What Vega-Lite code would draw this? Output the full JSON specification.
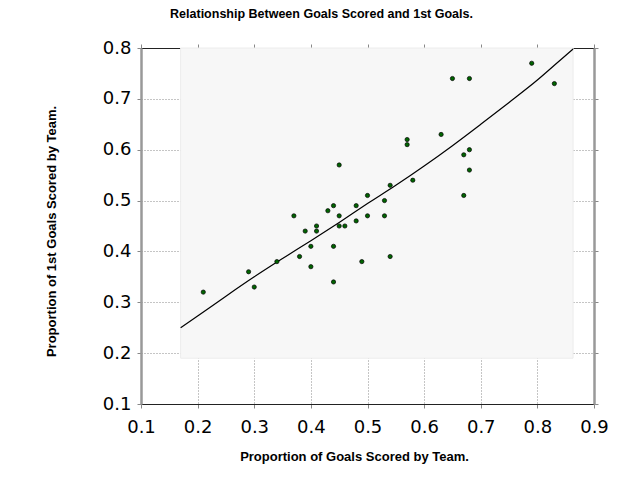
{
  "$schema": "https://vega.github.io/schema/vega-lite/v6.json",
  "width": 453,
  "height": 356,
  "autosize": {"type": "none"},
  "padding": {"left": 141, "top": 48, "right": 46, "bottom": 76},
  "background": "white",
  "title": {
    "text": "Relationship Between Goals Scored and 1st Goals.",
    "font": "Liberation Sans",
    "fontSize": 12.5,
    "fontWeight": "bold",
    "color": "black",
    "anchor": "middle",
    "dx": -46,
    "baseline": "alphabetic",
    "offset": 9
  },
  "config": {
    "view": {"stroke": null},
    "axis": {
      "labelFont": "DejaVu Sans",
      "labelFontSize": 18,
      "labelColor": "black",
      "titleFont": "Liberation Sans",
      "titleFontSize": 13,
      "titleFontWeight": "bold",
      "titleColor": "black",
      "tickColor": "#888",
      "tickSize": 4,
      "gridColor": "#8a8a8a",
      "gridDash": [1, 2],
      "gridWidth": 1,
      "zindex": 1
    }
  },
  "datasets": {
    "bg": [{"x0": 0.17, "x1": 0.863, "y0": 0.19, "y1": 0.8}],
    "fit": [
      {"x": 0.17, "y": 0.25},
      {"x": 0.2, "y": 0.273},
      {"x": 0.25, "y": 0.312},
      {"x": 0.3, "y": 0.35},
      {"x": 0.35, "y": 0.386},
      {"x": 0.4, "y": 0.421},
      {"x": 0.45, "y": 0.457},
      {"x": 0.5, "y": 0.494},
      {"x": 0.55, "y": 0.53},
      {"x": 0.6, "y": 0.568},
      {"x": 0.65, "y": 0.608},
      {"x": 0.7, "y": 0.65},
      {"x": 0.75, "y": 0.693},
      {"x": 0.8, "y": 0.737},
      {"x": 0.83, "y": 0.766},
      {"x": 0.863, "y": 0.798}
    ],
    "teams": [
      {"goals": 0.21, "first": 0.32},
      {"goals": 0.29, "first": 0.36},
      {"goals": 0.30, "first": 0.33},
      {"goals": 0.34, "first": 0.38},
      {"goals": 0.37, "first": 0.47},
      {"goals": 0.38, "first": 0.39},
      {"goals": 0.39, "first": 0.44},
      {"goals": 0.40, "first": 0.37},
      {"goals": 0.40, "first": 0.41},
      {"goals": 0.41, "first": 0.45},
      {"goals": 0.41, "first": 0.44},
      {"goals": 0.43, "first": 0.48},
      {"goals": 0.44, "first": 0.49},
      {"goals": 0.44, "first": 0.41},
      {"goals": 0.44, "first": 0.34},
      {"goals": 0.45, "first": 0.57},
      {"goals": 0.45, "first": 0.47},
      {"goals": 0.45, "first": 0.45},
      {"goals": 0.46, "first": 0.45},
      {"goals": 0.48, "first": 0.49},
      {"goals": 0.48, "first": 0.46},
      {"goals": 0.49, "first": 0.38},
      {"goals": 0.50, "first": 0.51},
      {"goals": 0.50, "first": 0.47},
      {"goals": 0.53, "first": 0.50},
      {"goals": 0.53, "first": 0.47},
      {"goals": 0.54, "first": 0.53},
      {"goals": 0.54, "first": 0.39},
      {"goals": 0.57, "first": 0.62},
      {"goals": 0.57, "first": 0.61},
      {"goals": 0.58, "first": 0.54},
      {"goals": 0.63, "first": 0.63},
      {"goals": 0.65, "first": 0.74},
      {"goals": 0.67, "first": 0.59},
      {"goals": 0.67, "first": 0.51},
      {"goals": 0.68, "first": 0.74},
      {"goals": 0.68, "first": 0.60},
      {"goals": 0.68, "first": 0.56},
      {"goals": 0.79, "first": 0.77},
      {"goals": 0.83, "first": 0.73}
    ]
  },
  "resolve": {"axis": {"x": "independent", "y": "independent"}},
  "layer": [
    {
      "data": {"name": "bg"},
      "mark": {"type": "rect", "color": "#f7f7f7", "stroke": "#ececec", "strokeWidth": 1},
      "encoding": {
        "x": {
          "field": "x0", "type": "quantitative",
          "scale": {"domain": [0.1, 0.9], "nice": false, "zero": false},
          "axis": {
            "orient": "bottom",
            "title": "Proportion of Goals Scored by Team.",
            "values": [0.1, 0.2, 0.3, 0.4, 0.5, 0.6, 0.7, 0.8, 0.9],
            "format": ".1f",
            "labelPadding": 10,
            "domainColor": "#222",
            "domainWidth": 1.2,
            "titleX": 213,
            "titleY": 56,
            "titleBaseline": "alphabetic",
            "titleAnchor": null,
            "labelFlush": false
          }
        },
        "x2": {"field": "x1"},
        "y": {
          "field": "y0", "type": "quantitative",
          "scale": {"domain": [0.1, 0.8], "nice": false, "zero": false},
          "axis": {
            "orient": "left",
            "title": "Proportion of 1st Goals Scored by Team.",
            "values": [0.1, 0.2, 0.3, 0.4, 0.5, 0.6, 0.7, 0.8],
            "format": ".1f",
            "labelPadding": 6,
            "domainColor": "#999",
            "domainWidth": 2.5,
            "titleX": -86,
            "titleY": 183,
            "titleAngle": -90,
            "titleBaseline": "alphabetic",
            "titleAnchor": null,
            "labelFlush": false
          }
        },
        "y2": {"field": "y1"}
      }
    },
    {
      "data": {"name": "fit"},
      "mark": {"type": "line", "color": "black", "strokeWidth": 1.2, "interpolate": "monotone"},
      "encoding": {
        "x": {"field": "x", "type": "quantitative", "axis": null},
        "y": {"field": "y", "type": "quantitative", "axis": null}
      }
    },
    {
      "data": {"name": "teams"},
      "mark": {"type": "point", "filled": true, "fill": "#006400", "stroke": "black", "strokeWidth": 0.7, "size": 18, "opacity": 1},
      "encoding": {
        "x": {
          "field": "goals", "type": "quantitative",
          "axis": {
            "orient": "top", "labels": false, "title": null, "grid": false,
            "values": [0.1, 0.2, 0.3, 0.4, 0.5, 0.6, 0.7, 0.8, 0.9],
            "domainColor": "#222", "domainWidth": 1.2
          }
        },
        "y": {
          "field": "first", "type": "quantitative",
          "axis": {
            "orient": "right", "labels": false, "title": null, "grid": false,
            "values": [0.1, 0.2, 0.3, 0.4, 0.5, 0.6, 0.7, 0.8],
            "domainColor": "#999", "domainWidth": 2.5
          }
        }
      }
    }
  ]
}
